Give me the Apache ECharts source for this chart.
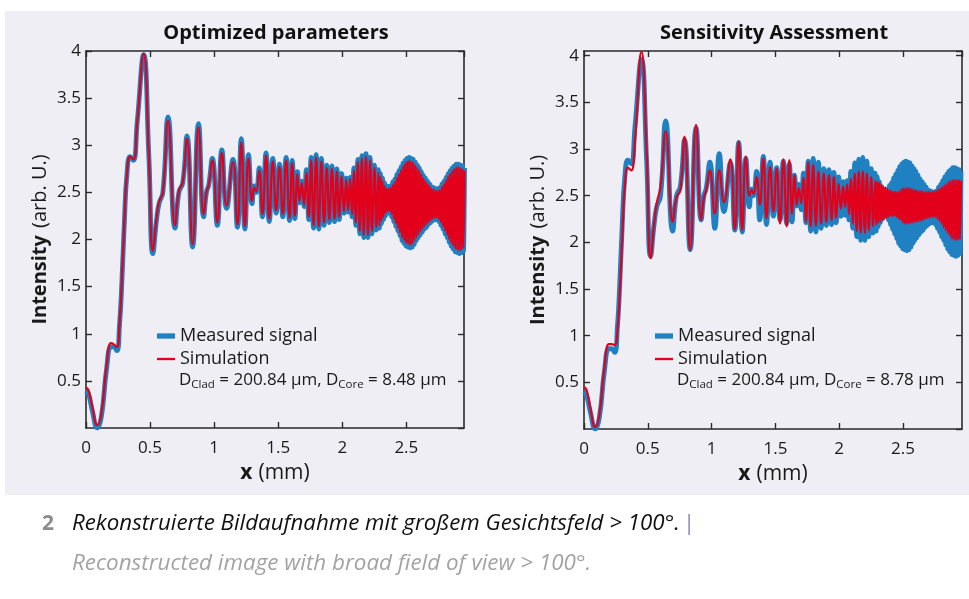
<!DOCTYPE html>
<html><head><meta charset="utf-8">
<script src="https://cdn.jsdelivr.net/npm/echarts/dist/echarts.min.js"></script>
<style>html,body{margin:0;padding:0;background:#ffffff;}#c{width:969px;height:599px;}</style>
</head><body><div id="c"></div>
<script>
// x positions (mm) shared by all curves
const xPos = [0.000,0.020,0.050,0.088,0.120,0.160,0.195,0.215,0.240,0.262,0.280,0.300,0.320,0.345,0.370,0.400,0.450,0.490,0.522,0.550,0.570,0.600,0.640,0.695,0.725,0.755,0.788,0.832,0.878,0.918,0.940,0.958,0.986,1.025,1.060,1.097,1.147,1.182,1.212,1.240,1.268,1.296,1.313,1.329,
1.352,1.377,1.405,1.430,1.458,1.484,1.510,1.536,1.562,1.588,1.609,1.630,1.650,1.666,1.684,1.702,1.720,1.739,1.757,1.776,1.796,1.817,1.837,1.858,1.879,1.899,1.919,1.940,1.958,1.976,1.995,2.013,2.031,2.046,2.062,2.077,2.091,2.106,2.122,2.137,2.153,2.168,2.185,2.201,2.217,2.232,2.251,2.266,2.282,
2.290,2.298,2.306,2.314,2.322,2.330,2.338,2.346,2.354,2.362,2.370,2.378,2.386,2.394,2.402,2.410,2.418,2.426,2.434,2.442,2.450,2.458,2.466,2.474,2.482,2.490,2.498,2.506,2.514,2.522,2.530,2.538,2.546,2.554,2.562,2.570,2.578,2.586,2.594,2.602,2.610,2.618,2.626,2.634,2.642,2.650,2.658,2.666,2.674,2.682,2.690,2.698,2.706,2.714,2.722,2.730,2.738,2.746,2.754,2.762,2.770,2.778,2.786,2.794,2.802,2.810,2.818,2.826,2.834,2.842,2.850,2.858,2.866,2.874,2.882,2.890,2.898,2.906,2.914,2.922,2.930,2.938,2.946,2.954];

// Measured signal (same measurement in both panels)
const measured = [0.40,0.36,0.18,0.00,0.12,0.62,0.86,0.86,0.82,1.10,1.55,2.20,2.70,2.88,2.84,3.25,3.96,2.90,1.85,2.20,2.38,2.50,3.30,2.12,2.50,2.60,3.10,1.92,3.23,2.24,2.50,2.58,2.86,2.15,2.95,2.33,2.85,2.13,3.07,2.11,2.90,2.38,2.57,2.50,
2.76,2.24,2.92,2.19,2.86,2.28,2.80,2.24,2.87,2.20,2.84,2.22,2.72,2.39,2.62,2.35,2.74,2.21,2.87,2.12,2.90,2.11,2.86,2.15,2.79,2.18,2.78,2.19,2.75,2.21,2.70,2.28,2.65,2.29,2.66,2.24,2.76,2.15,2.85,2.06,2.89,2.02,2.91,2.02,2.87,2.06,2.79,2.10,2.74,
2.12,2.70,2.17,2.65,2.21,2.60,2.25,2.57,2.28,2.56,2.28,2.57,2.24,2.61,2.19,2.64,2.14,2.69,2.09,2.73,2.04,2.77,1.99,2.81,1.96,2.84,1.93,2.86,1.92,2.87,1.91,2.86,1.92,2.85,1.95,2.82,1.99,2.79,2.02,2.76,2.05,2.72,2.08,2.68,2.11,2.65,2.13,2.62,2.16,2.59,2.18,2.56,2.20,2.55,2.21,2.54,2.21,2.54,2.19,2.55,2.15,2.59,2.11,2.62,2.06,2.66,2.02,2.70,1.97,2.73,1.93,2.76,1.90,2.78,1.87,2.80,1.86,2.80,1.85,2.79,1.86,2.78,1.88,2.76];

// Simulation, D_Core = 8.48 µm (optimized)
const simOptimized = [0.43,0.40,0.22,0.03,0.15,0.66,0.90,0.89,0.86,1.12,1.58,2.22,2.70,2.88,2.85,3.25,3.97,2.90,1.88,2.22,2.40,2.50,3.26,2.15,2.52,2.61,3.07,1.95,3.19,2.27,2.50,2.58,2.84,2.18,2.92,2.36,2.82,2.16,3.03,2.14,2.86,2.41,2.55,2.51,
2.73,2.27,2.89,2.22,2.83,2.31,2.77,2.27,2.84,2.23,2.81,2.25,2.69,2.41,2.60,2.37,2.71,2.24,2.84,2.15,2.87,2.14,2.83,2.18,2.76,2.21,2.75,2.22,2.72,2.24,2.67,2.30,2.63,2.31,2.64,2.27,2.73,2.18,2.82,2.09,2.86,2.05,2.88,2.05,2.84,2.09,2.76,2.13,2.71,
2.15,2.67,2.20,2.62,2.24,2.57,2.28,2.54,2.30,2.54,2.30,2.55,2.27,2.58,2.22,2.61,2.17,2.66,2.12,2.70,2.07,2.74,2.02,2.78,1.99,2.81,1.96,2.83,1.95,2.84,1.94,2.83,1.95,2.82,1.98,2.79,2.02,2.76,2.05,2.73,2.08,2.69,2.11,2.65,2.14,2.62,2.16,2.59,2.18,2.57,2.20,2.54,2.22,2.53,2.23,2.52,2.23,2.52,2.21,2.53,2.18,2.56,2.14,2.59,2.09,2.63,2.05,2.67,2.00,2.70,1.96,2.73,1.93,2.75,1.90,2.77,1.89,2.77,1.88,2.76,1.89,2.75,1.91,2.73];

// Simulation, D_Core = 8.78 µm (sensitivity assessment)
const simSensitivity = [0.45,0.42,0.22,0.02,0.15,0.66,0.91,0.91,0.90,1.05,1.45,2.05,2.60,2.80,2.77,3.10,4.04,3.00,1.83,2.20,2.42,2.60,3.19,2.22,2.48,2.56,3.13,1.92,3.26,2.24,2.48,2.56,2.77,2.31,2.77,2.43,2.89,2.14,3.08,2.13,2.92,2.50,2.56,2.52,
2.70,2.40,2.90,2.26,2.81,2.33,2.79,2.20,2.89,2.17,2.88,2.31,2.72,2.40,2.58,2.42,2.69,2.22,2.86,2.17,2.83,2.18,2.76,2.20,2.74,2.22,2.72,2.24,2.70,2.26,2.63,2.36,2.60,2.38,2.62,2.30,2.68,2.20,2.74,2.12,2.76,2.10,2.76,2.10,2.74,2.13,2.70,2.17,2.66,
2.19,2.65,2.21,2.64,2.22,2.62,2.24,2.60,2.25,2.59,2.26,2.57,2.27,2.56,2.28,2.55,2.28,2.54,2.28,2.54,2.27,2.54,2.25,2.55,2.24,2.57,2.21,2.58,2.20,2.58,2.20,2.58,2.20,2.58,2.21,2.57,2.21,2.56,2.22,2.56,2.22,2.55,2.23,2.55,2.23,2.55,2.24,2.54,2.25,2.54,2.26,2.54,2.26,2.54,2.27,2.54,2.27,2.55,2.27,2.55,2.25,2.57,2.23,2.58,2.20,2.60,2.16,2.61,2.13,2.63,2.10,2.65,2.07,2.66,2.04,2.67,2.03,2.67,2.02,2.67,2.03,2.67,2.03,2.66];

const xTickLabels = ['0','0.5','1','1.5','2','2.5'];
const panelTitles = ['Optimized parameters','Sensitivity Assessment'];
const seriesNames = ['Measured signal','Simulation'];
const coreDiameters = ['8.48','8.78'];
const cladDiameter = '200.84';
const captionDe = 'Rekonstruierte Bildaufnahme mit großem Gesichtsfeld > 100°.';
const captionEn = 'Reconstructed image with broad field of view > 100°.';

const FONT = "'Open Sans', 'Noto Sans', sans-serif";
const CAPFONT = "'Open Sans', 'Noto Sans', sans-serif";
const BLUE = '#1f80c2', RED = '#e3001b', AX = '#2a2a2a', BG = '#efeef5';

const chart = echarts.init(document.getElementById('c'), null, {renderer:'canvas'});
const grids = [
  {left:86, top:51, width:378, height:377},
  {left:584, top:51, width:378, height:378}
];
const xMax = [2.95, 2.962], yMax = [4, 4.05];

const xAxes = [], yAxes = [];
grids.forEach((g, i) => {
  const common = {type:'value', gridIndex:i, min:0, max:xMax[i], interval:0.5,
    axisLine:{show:true, onZero:false, lineStyle:{color:AX, width:1.6}},
    axisTick:{show:true, inside:true, length:6, lineStyle:{color:AX, width:1.4}},
    splitLine:{show:false}};
  xAxes.push(Object.assign({}, common, {position:'bottom',
    axisLabel:{show:true, margin:12, color:'#1a1a1a', fontSize:17, fontFamily:FONT,
      showMaxLabel:false, formatter:(v)=>{const k=Math.round(v/0.5); return (Math.abs(v-k*0.5)<1e-6 && k<xTickLabels.length)? xTickLabels[k]:'';}},
    name:'{b|x}{r|(mm)}', nameLocation:'middle', nameGap:35,
    nameTextStyle:{fontFamily:FONT, color:'#1a1a1a', rich:{b:{fontWeight:'bold',fontSize:21,fontFamily:FONT,color:'#1a1a1a'}, r:{fontSize:21,fontFamily:FONT,color:'#1a1a1a',padding:[0,0,0,6]}}}
  }));
  xAxes.push(Object.assign({}, common, {position:'top', axisLabel:{show:false}}));
  const ycommon = {type:'value', gridIndex:i, min:0, max:yMax[i], interval:0.5,
    axisLine:{show:true, onZero:false, lineStyle:{color:AX, width:1.6}},
    axisTick:{show:true, inside:true, length:6, lineStyle:{color:AX, width:1.4}},
    splitLine:{show:false}};
  yAxes.push(Object.assign({}, ycommon, {position:'left',
    axisLabel:{show:true, margin:5, color:'#1a1a1a', fontSize:17, fontFamily:FONT, showMinLabel:false, showMaxLabel:(i===0)},
    name:'{b|Intensity} {r|(arb. U.)}', nameLocation:'middle', nameGap:36,
    nameTextStyle:{fontFamily:FONT, color:'#1a1a1a', rich:{b:{fontWeight:'bold',fontSize:20,fontFamily:FONT,color:'#1a1a1a'}, r:{fontSize:20,fontFamily:FONT,color:'#1a1a1a',padding:[0,0,0,4]}}}
  }));
  yAxes.push(Object.assign({}, ycommon, {position:'right', axisLabel:{show:false}}));
});

const meas = xPos.map((x,i)=>[x, measured[i]]);
const simA = xPos.map((x,i)=>[x, simOptimized[i]]);
const simB = xPos.map((x,i)=>[x, simSensitivity[i]]);
function line(name, data, gi, color, width, z){
  return {type:'line', name, data, xAxisIndex:gi*2, yAxisIndex:gi*2, symbol:'none', showSymbol:false,
    smooth:0.5, clip:true, z, lineStyle:{color, width}, itemStyle:{color}, emphasis:{disabled:true}, silent:true};
}
const series = [
  line(seriesNames[0], meas, 0, BLUE, 4.8, 2),
  line(seriesNames[1], simA, 0, RED, 2.2, 3),
  line(seriesNames[0], meas, 1, BLUE, 4.8, 2),
  line(seriesNames[1], simB, 1, RED, 2.2, 3)
];

const legendLeft = [152, 650];
const legendIcons = ['path://M0,0h17v5h-17z', 'path://M0,0h17v2.2h-17z'];
const legends = legendLeft.map(l => ({left:l, top:322, orient:'vertical', itemWidth:18, itemHeight:12, itemGap:5,
  selectedMode:false, symbolKeepAspect:true,
  data: seriesNames.map((n,k)=>({name:n, icon:legendIcons[k], itemStyle:{color:k===0?BLUE:RED, borderWidth:0}})),
  textStyle:{fontFamily:FONT, fontSize:18, color:'#1a1a1a', padding:[0,0,0,0]}}));

const textLeft = [179, 677];
const graphics = [
  {type:'rect', shape:{x:5, y:11, width:964, height:484}, style:{fill:BG}, z:-10, silent:true},
  {type:'rect', shape:{x:5, y:495, width:964, height:104}, style:{fill:'#ffffff'}, z:-10, silent:true}
];
panelTitles.forEach((t,i)=>{
  graphics.push({type:'text', x: grids[i].left + grids[i].width/2 + 1, y:33, style:{text:t, textAlign:'center', textVerticalAlign:'middle',
    font:"bold 20px 'Open Sans', sans-serif", fill:'#111'}});
  graphics.push({type:'text', x:textLeft[i], y:380, style:{
    text:'{n|D}{s|Clad}{n| = ' + cladDiameter + ' µm, D}{s|Core}{n| = ' + coreDiameters[i] + ' µm}',
    textVerticalAlign:'middle', rich:{
      n:{fontSize:17, fontFamily:FONT, fill:'#1a1a1a', lineHeight:22, verticalAlign:'middle'},
      s:{fontSize:11.5, fontFamily:FONT, fill:'#1a1a1a', lineHeight:22, verticalAlign:'bottom', padding:[10,0,0,0]}
    }}});
});
graphics.push({type:'text', x:42, y:524, style:{text:'2', textVerticalAlign:'middle', font:"bold 21px " + CAPFONT, fill:'#8c8c8c'}});
graphics.push({type:'text', x:72, y:524, style:{text:'{a|' + captionDe + '} {p||}', textVerticalAlign:'middle', rich:{
  a:{fontStyle:'italic', fontSize:22.3, fontFamily:CAPFONT, fill:'#111'},
  p:{fontSize:22.3, fontFamily:CAPFONT, fill:'#8e8ac0'}}}});
graphics.push({type:'text', x:72, y:564, style:{text:captionEn, textVerticalAlign:'middle',
  font:"italic 22.4px " + CAPFONT, fill:'#a3a3a3'}});

chart.setOption({
  animation:false,
  backgroundColor:'#ffffff',
  grid: grids.map(g=>Object.assign({containLabel:false, outerBoundsMode:'none'}, g)),
  xAxis: xAxes, yAxis: yAxes,
  legend: legends,
  series,
  graphic: graphics
});
</script></body></html>
